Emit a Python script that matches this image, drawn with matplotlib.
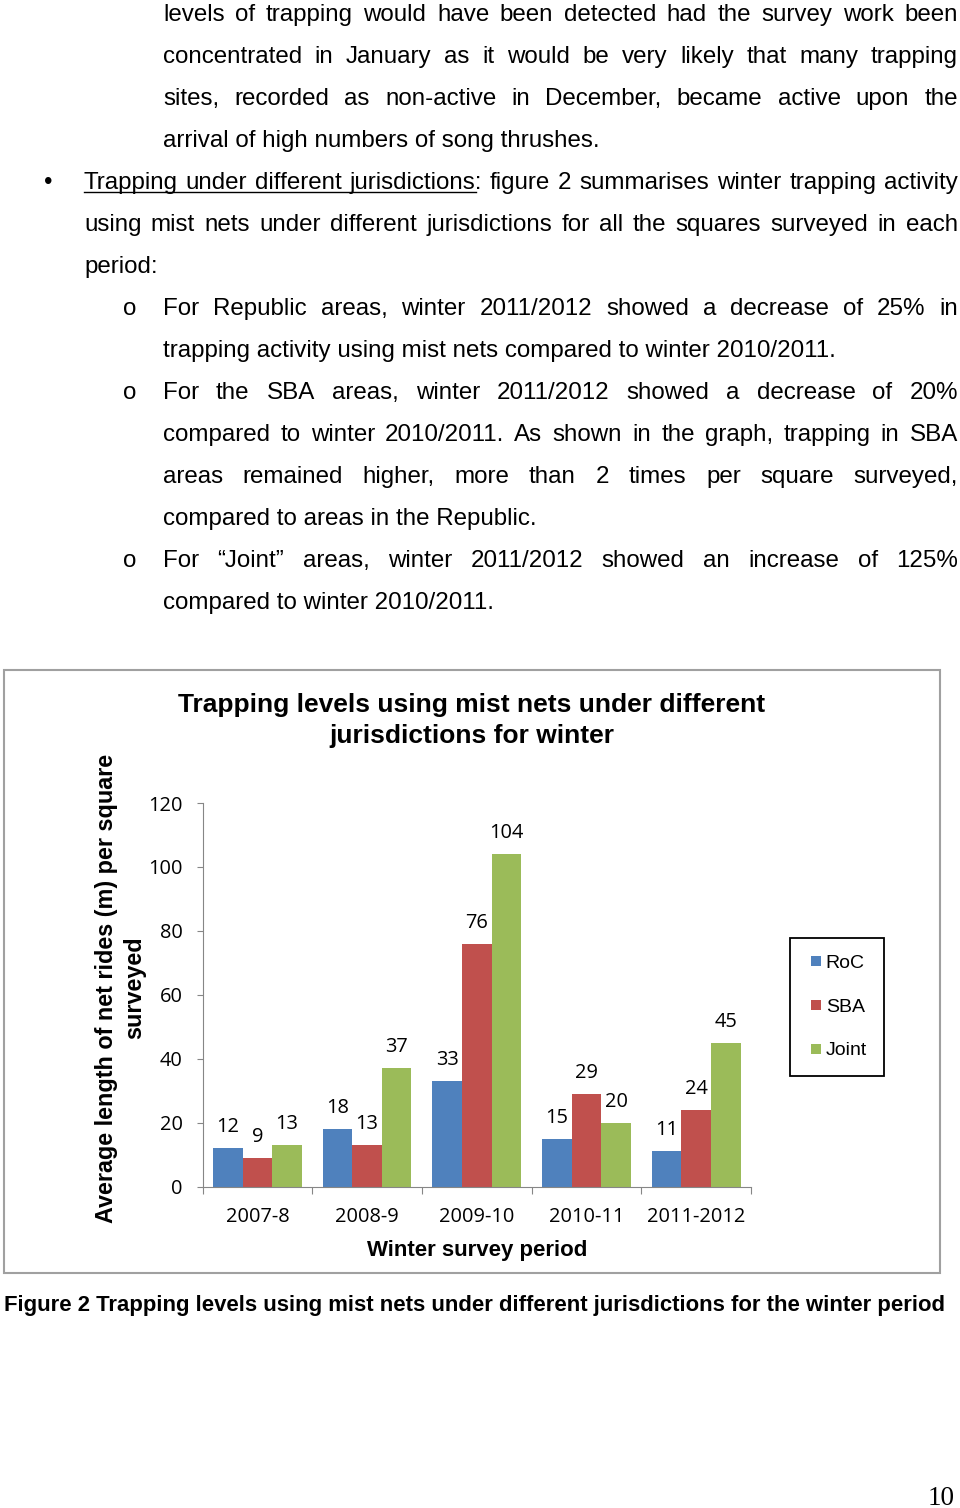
import numpy as np
import matplotlib
matplotlib.use('Agg')
import matplotlib.pyplot as plt
from matplotlib.lines import Line2D
from matplotlib.patches import Rectangle

# ---------------- data ----------------
periods = ['2007-8', '2008-9', '2009-10', '2010-11', '2011-2012']
series_names = ['RoC', 'SBA', 'Joint']
roc = [12, 18, 33, 15, 11]
sba = [9, 13, 76, 29, 24]
joint = [13, 37, 104, 20, 45]
yticks = [0, 20, 40, 60, 80, 100, 120]

chart_title = ['Trapping levels using mist nets under different', 'jurisdictions for winter']
ylabel_lines = ['Average length of net rides (m) per square', 'surveyed']
xlabel = 'Winter survey period'
caption = 'Figure 2 Trapping levels using mist nets under different jurisdictions for the winter period'
page_number = '10'

# body text: (left x, text, justified, marker)
body_lines = [
    (163, 'levels of trapping would have been detected had the survey work been', True, None),
    (163, 'concentrated in January as it would be very likely that many trapping', True, None),
    (163, 'sites, recorded as non-active in December, became active upon the', True, None),
    (163, 'arrival of high numbers of song thrushes.', False, None),
    (84, 'Trapping under different jurisdictions: figure 2 summarises winter trapping activity', True, '•'),
    (84, 'using mist nets under different jurisdictions for all the squares surveyed in each', True, None),
    (84, 'period:', False, None),
    (163, 'For Republic areas, winter 2011/2012 showed a decrease of 25% in', True, 'o'),
    (163, 'trapping activity using mist nets compared to winter 2010/2011.', False, None),
    (163, 'For the SBA areas, winter 2011/2012 showed a decrease of 20%', True, 'o'),
    (163, 'compared to winter 2010/2011. As shown in the graph, trapping in SBA', True, None),
    (163, 'areas remained higher, more than 2 times per square surveyed,', True, None),
    (163, 'compared to areas in the Republic.', False, None),
    (163, 'For \u201cJoint\u201d areas, winter 2011/2012 showed an increase of 125%', True, 'o'),
    (163, 'compared to winter 2010/2011.', False, None),
]
underlined = 'Trapping under different jurisdictions'

# ---------------- figure ----------------
W, H = 960, 1508
fig = plt.figure(figsize=(W / 100, H / 100), dpi=100)
fig.patch.set_facecolor('white')


def fx(x):
    return x / W


def fy(y):
    return 1 - y / H


renderer = fig.canvas.get_renderer()
BODY = dict(family='Liberation Sans', fontsize=17.4, color='black')


def width_of(s, **kw):
    t = fig.text(0, 0, s, **kw)
    w = t.get_window_extent(renderer).width
    t.remove()
    return w


right_edge = 958
base0, step = 21, 42
for i, (xl, text, just, marker) in enumerate(body_lines):
    yb = base0 + step * i
    if marker == '•':
        fig.text(fx(48.5), fy(yb), marker, ha='center', va='baseline', **BODY)
    elif marker == 'o':
        fig.text(fx(130), fy(yb), marker, ha='center', va='baseline', **BODY)
    if not just:
        fig.text(fx(xl), fy(yb), text, ha='left', va='baseline', **BODY)
        continue
    words = text.split(' ')
    widths = [width_of(w, **BODY) for w in words]
    gap = (right_edge - xl - sum(widths)) / (len(words) - 1)
    xpos = xl
    for w, wd in zip(words, widths):
        fig.text(fx(xpos), fy(yb), w, ha='left', va='baseline', **BODY)
        xpos += wd + gap
    if text.startswith(underlined):
        n = len(underlined.split(' '))
        end = xl + sum(widths[:n - 1]) + gap * (n - 1) + width_of('jurisdictions', **BODY)
        fig.add_artist(Line2D([fx(xl), fx(end)], [fy(yb + 3), fy(yb + 3)],
                              transform=fig.transFigure, color='black', lw=1.0))

# chart outer border
fig.add_artist(Rectangle((fx(4), fy(1273)), (940 - 4) / W, (1273 - 670) / H,
                         transform=fig.transFigure, fill=False,
                         edgecolor='#A0A0A0', lw=1.5))

# ---------------- chart ----------------
ax_l, ax_r, ax_t, ax_b = 202.5, 751, 803, 1186.5
ax = fig.add_axes([fx(ax_l), fy(ax_b), (ax_r - ax_l) / W, (ax_b - ax_t) / H])
ax.patch.set_alpha(0)
colors = ['#4F81BD', '#C0504D', '#9BBB59']
bw = 0.27
x = np.arange(len(periods))
TICKFONT = dict(fontfamily='Open Sans', fontsize=14.4)
for j, (name, vals, c) in enumerate(zip(series_names, [roc, sba, joint], colors)):
    xs = x + (j - 1) * bw
    ax.bar(xs, vals, width=bw, color=c, label=name, zorder=2)
    for xi, v in zip(xs, vals):
        ax.annotate(f'{v}', (xi, v), xytext=(0, 11.5), textcoords='offset points',
                    ha='center', va='baseline', **TICKFONT)

ax.set_xlim(-0.5, 4.5)
ax.set_ylim(0, 120)
ax.set_yticks(yticks)
ax.set_yticklabels([str(t) for t in yticks], **TICKFONT)
ax.tick_params(axis='y', direction='out', length=4.3, width=0.8, color='#868686', pad=10)
ax.set_xticks(np.arange(-0.5, 5, 1))
ax.set_xticklabels([])
ax.set_xticks(x, minor=True)
ax.set_xticklabels(periods, minor=True, **TICKFONT)
ax.tick_params(axis='x', which='major', direction='out', length=5, width=0.8, color='#868686')
ax.tick_params(axis='x', which='minor', length=0, pad=14.5)
for s in ['top', 'right']:
    ax.spines[s].set_visible(False)
for s in ['left', 'bottom']:
    ax.spines[s].set_color('#868686')
    ax.spines[s].set_linewidth(0.8)

ax.set_xlabel(xlabel, family='Liberation Sans', weight='bold', fontsize=16,
              ha='center', va='baseline')
ax.xaxis.set_label_coords((476.7 - ax_l) / (ax_r - ax_l), (ax_b - 1256) / (ax_b - ax_t))

handles = [Line2D([], [], marker='s', ls='none', markersize=7.2, color=c,
                  markeredgewidth=0) for c in colors]
leg = ax.legend(handles, series_names, loc='upper left',
                bbox_to_anchor=(fx(790), fy(938)), bbox_transform=fig.transFigure,
                borderaxespad=0, prop={'family': 'Liberation Sans', 'size': 14},
                frameon=True, fancybox=False, edgecolor='black', framealpha=1,
                borderpad=0.85, labelspacing=1.34, handlelength=0.95,
                handletextpad=0.04)
leg.get_frame().set_linewidth(1.3)

TITLE = dict(family='Liberation Sans', weight='bold', fontsize=19.0, color='black')
fig.text(fx(471.5), fy(712), chart_title[0], ha='center', va='baseline', **TITLE)
fig.text(fx(471.5), fy(743), chart_title[1], ha='center', va='baseline', **TITLE)

YL = dict(family='Liberation Sans', weight='bold', fontsize=16.8, color='black',
          rotation=90, rotation_mode='anchor', ha='center', va='baseline')
fig.text(fx(113.3), fy(988.5), ylabel_lines[0], **YL)
fig.text(fx(141), fy(988), ylabel_lines[1], **YL)

fig.text(fx(4), fy(1311.5), caption, ha='left', va='baseline',
         family='Liberation Sans', weight='bold', fontsize=15.95)
fig.text(fx(955), fy(1505), page_number, ha='right', va='baseline',
         family='Liberation Serif', fontsize=19.5)

fig.savefig('out.png', dpi=100, facecolor='white')
